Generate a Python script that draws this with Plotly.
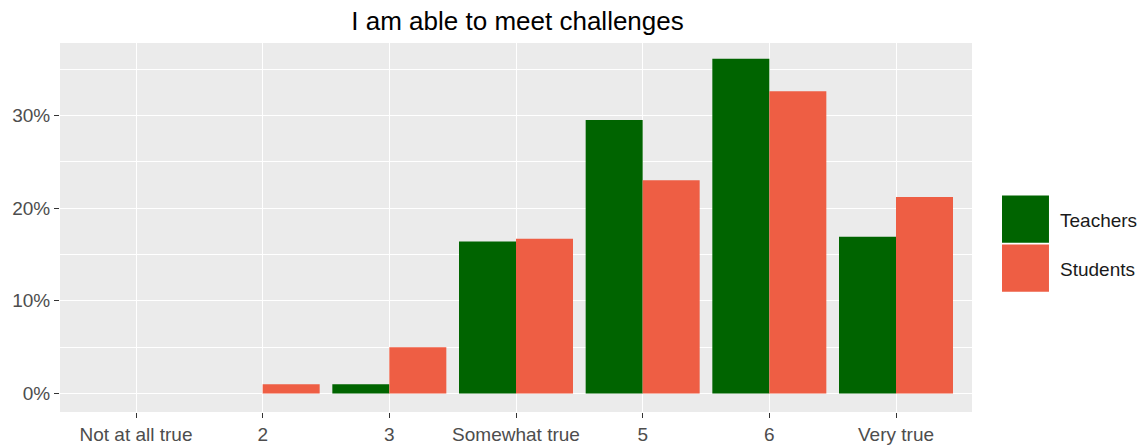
import plotly.graph_objects as go

GREEN = "#006400"
ORANGE = "#EE5E44"
PANEL = "#EBEBEB"
FONT = "Liberation Sans, Arial, sans-serif"

categories = ["Not at all true", "2", "3", "Somewhat true", "5", "6", "Very true"]
teachers = [0.0, 0.0, 0.010, 0.164, 0.295, 0.361, 0.169]
students = [0.0, 0.010, 0.050, 0.167, 0.230, 0.326, 0.212]
series_names = ["Teachers", "Students"]
y_ticks = [0.0, 0.1, 0.2, 0.3]
y_tick_labels = ["0%", "10%", "20%", "30%"]

fig = go.Figure()
for name, vals, col in zip(series_names, [teachers, students], [GREEN, ORANGE]):
    fig.add_trace(go.Bar(
        x=categories,
        y=vals,
        name=name,
        marker=dict(color=col, line=dict(width=0)),
        showlegend=False,
    ))

# ggplot-style legend with big square keys
key_pos = [(0.587, 0.459, 0.519), (0.4538, 0.326, 0.386)]
for name, col, (y1, y0, ty) in zip(series_names, [GREEN, ORANGE], key_pos):
    fig.add_shape(type="rect", xref="paper", yref="paper",
                  x0=1.0329, x1=1.0844, y0=y0, y1=y1,
                  fillcolor=col, line=dict(width=0))
    fig.add_annotation(text=name, xref="paper", yref="paper",
                       x=1.0943, y=ty, xanchor="left", yanchor="middle",
                       showarrow=False, font=dict(size=19, color="#1A1A1A", family=FONT))

fig.update_layout(
    title=dict(text="I am able to meet challenges", x=0.452, xanchor="center",
               y=0.953, yanchor="middle",
               font=dict(size=26, color="#000000", family=FONT)),
    barmode="group",
    bargap=0.1,
    bargroupgap=0,
    font=dict(family=FONT, color="#4D4D4D", size=19),
    paper_bgcolor="#FFFFFF",
    plot_bgcolor=PANEL,
    margin=dict(l=60, r=173, t=43, b=34),
    width=1145,
    height=446,
    xaxis=dict(
        type="category",
        range=[-0.6, 6.6],
        automargin=False,
        showgrid=True, gridcolor="#FFFFFF", gridwidth=1.3,
        ticks="outside", ticklen=5, tickcolor="#333333", tickwidth=1,
        tickfont=dict(size=19, color="#4D4D4D"),
        zeroline=False, showline=False,
    ),
    yaxis=dict(
        range=[-0.0199, 0.3781],
        automargin=False,
        tickvals=y_ticks, ticktext=y_tick_labels,
        showgrid=True, gridcolor="#FFFFFF", gridwidth=1.3,
        minor=dict(dtick=0.05, tick0=0, showgrid=True, gridcolor="#FFFFFF", gridwidth=0.6),
        ticks="outside", ticklen=5, tickcolor="#333333", tickwidth=1,
        tickfont=dict(size=19, color="#4D4D4D"),
        zeroline=False, showline=False,
    ),
)

fig.write_html("out.html", config={"displayModeBar": False},
               post_script="document.body.style.margin='0px';")
